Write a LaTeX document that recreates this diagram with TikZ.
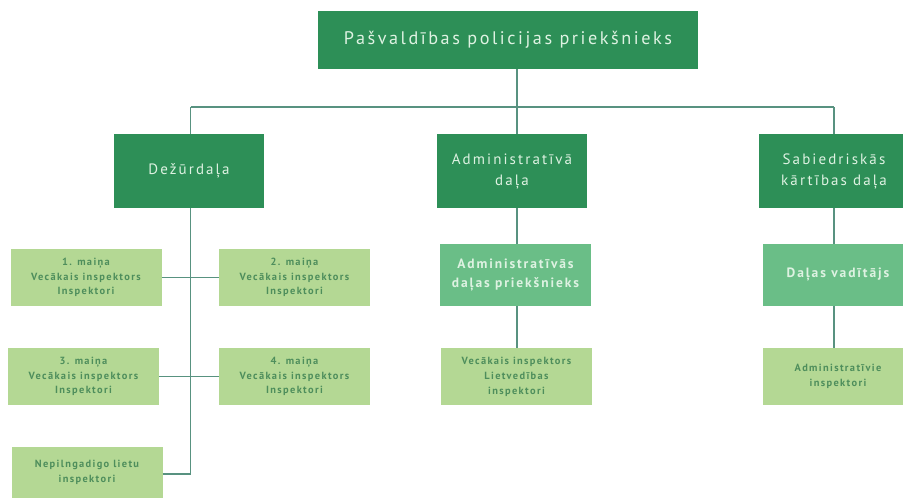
\documentclass[tikz,border=0pt]{standalone}
\usepackage{fontspec}
\setmainfont{PT Sans}
\newfontfamily\bigf[LetterSpace=14]{PT Sans}
\newfontfamily\smallf[LetterSpace=13]{PT Sans Bold}
\definecolor{darkg}{RGB}{45,143,87}
\definecolor{midg}{RGB}{106,190,135}
\definecolor{lightg}{RGB}{180,216,148}
\definecolor{paletxt}{RGB}{222,242,226}
\definecolor{lighttxt}{RGB}{78,142,92}
\definecolor{linec}{RGB}{88,146,128}
\tikzset{
  box/.style={rectangle, inner sep=0pt, align=center, anchor=center},
  topbox/.style={box, fill=darkg, text=paletxt, font=\bigf\fontsize{18.2}{20}\selectfont},
  deptbox/.style={box, fill=darkg, text=paletxt, minimum width=150pt, minimum height=74pt, font=\bigf\fontsize{15}{21}\selectfont},
  headbox/.style={box, fill=midg, text=paletxt, minimum width=151pt, minimum height=62pt, font=\bigf\bfseries\fontsize{13.5}{19}\selectfont},
  unitbox/.style={box, fill=lightg, text=lighttxt, minimum width=151pt, minimum height=57pt, font=\smallf\fontsize{10.4}{14.5}\selectfont},
  conn/.style={draw=linec, line width=1.2pt}
}
\begin{document}
\begin{tikzpicture}[x=1pt,y=-1pt]
\useasboundingbox[fill=white] (0,0) rectangle (903,499);
\clip (0,0) rectangle (903,499);
% top
\node[topbox, minimum width=380pt, minimum height=58pt] (top) at (508,40) {Pašvaldības policijas priekšnieks};
% departments
\node[deptbox] (dez) at (189,171) {Dežūrdaļa};
\node[deptbox] (adm) at (512,171) {Administratīvā\\daļa};
\node[deptbox] (sab) at (834,171) {Sabiedriskās\\kārtības daļa};
% heads
\node[headbox] (admp) at (515.5,275) {Administratīvās\\daļas priekšnieks};
\node[headbox] (sabv) at (838,275) {Daļas vadītājs};
% units
\node[unitbox] (m1) at (86,277.5) {1. maiņa\\Vecākais inspektors\\Inspektori};
\node[unitbox] (m2) at (294.5,277.5) {2. maiņa\\Vecākais inspektors\\Inspektori};
\node[unitbox] (m3) at (83.5,376.5) {3. maiņa\\Vecākais inspektors\\Inspektori};
\node[unitbox] (m4) at (294.5,376.5) {4. maiņa\\Vecākais inspektors\\Inspektori};
\node[unitbox, minimum height=51pt] (nep) at (87,472.5) {Nepilngadigo lietu\\inspektori};
\node[unitbox, font=\smallf\fontsize{10.4}{15}\selectfont] (admv) at (516.5,376.5) {Vecākais inspektors\\Lietvedības\\inspektori};
\node[unitbox, minimum width=150pt] (sabi) at (838,376.5) {Administratīvie\\inspektori};
% bus coordinates
\coordinate (bus) at (517,107);
\coordinate (bl) at (190.7,107);
\coordinate (br) at (834,107);
\coordinate (dx) at (190.7,208);
\coordinate (dend) at (190.7,474);
\coordinate (ax) at (517,208);
% connectors
\draw[conn] (top.south -| bus) -- (bus);
\draw[conn] (bl) -- (br);
\draw[conn] (bl) -- (dez.north -| bl);
\draw[conn] (bus) -- (adm.north -| bus);
\draw[conn] (br) -- (sab.north);
\draw[conn] (dez.south -| dx) -- (dend);
\draw[conn] (m1.east) -- (m2.west |- m1.east);
\draw[conn] (m3.east) -- (m4.west |- m3.east);
\draw[conn] (nep.east |- dend) -- (dend);
\draw[conn] (adm.south -| ax) -- (admp.north -| ax);
\draw[conn] (admp.south -| ax) -- (admv.north -| ax);
\draw[conn] (sab.south) -- (sabv.north -| sab.south);
\draw[conn] (sabv.south -| sab.south) -- (sabi.north -| sab.south);
\end{tikzpicture}
\end{document}
